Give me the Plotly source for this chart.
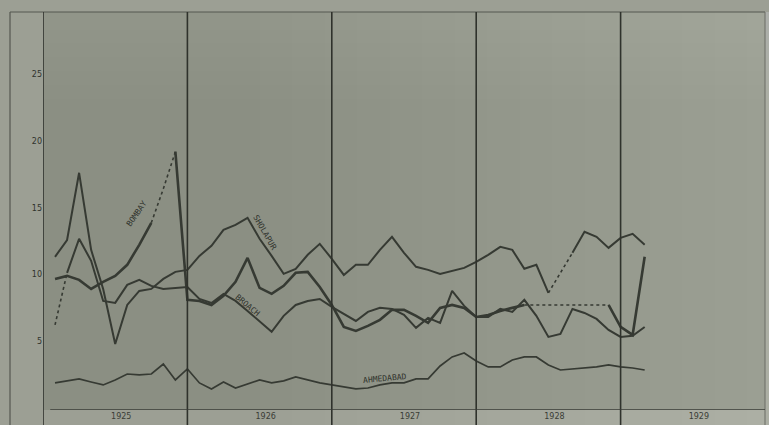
import plotly.graph_objects as go

# Monthly index: 1 = Jan 1925 ... 50 = Feb 1929
months = list(range(1, 51))
year_labels = ["1925", "1926", "1927", "1928", "1929"]
year_label_pos = [6.5, 18.5, 30.5, 42.5, 54.5]
year_bounds = [0, 12, 24, 36, 48]
y_ticks = [5, 10, 15, 20, 25]

bombay = [9.68, 9.91, 9.61, 8.93, 9.46, 9.91, 10.74, 12.24, 13.89, 16.44,
          19.22, 8.11, 8.03, 7.73, 8.41, 9.46, 11.26, 9.01, 8.56, 9.16,
          10.14, 10.21, 9.08, 7.73, 6.08, 5.78, 6.16, 6.61, 7.36, 7.36,
          6.91, 6.38, 7.51, 7.73, 7.51, 6.83, 6.98, 7.28, 7.51, 7.73,
          7.73, 7.73, 7.73, 7.73, 7.73, 7.73, 7.73, 6.08, 5.48, 11.34]
sholapur = [11.34, 12.6, 17.64, 11.86, 8.93, 4.8, 7.73, 8.78, 8.93, 9.68,
            10.21, 10.36, 11.41, 12.16, 13.36, 13.74, 14.26, 12.69, 11.41, 10.06,
            10.44, 11.49, 12.31, 11.19, 9.98, 10.74, 10.74, 11.86, 12.84, 11.64,
            10.59, 10.36, 10.06, 10.29, 10.51, 10.96, 11.49, 12.09, 11.86, 10.44,
            10.74, 8.63, 10.14, 11.64, 13.21, 12.84, 12.01, 12.76, 13.06, 12.24]
broach = [6.23, 10.14, 12.69, 11.04, 8.03, 7.88, 9.23, 9.61, 9.16, 8.93,
          9.01, 9.08, 8.18, 7.88, 8.56, 8.03, 7.28, 6.46, 5.71, 6.91,
          7.73, 8.03, 8.18, 7.58, 7.06, 6.53, 7.21, 7.51, 7.43, 6.98,
          6.01, 6.76, 6.38, 8.78, 7.66, 6.83, 6.83, 7.43, 7.21, 8.11,
          6.91, 5.33, 5.56, 7.43, 7.13, 6.68, 5.86, 5.33, 5.41, 6.08]
ahmedabad = [1.88, 2.03, 2.18, 1.95, 1.73, 2.1, 2.55, 2.48, 2.55, 3.3,
             2.1, 2.93, 1.88, 1.43, 1.95, 1.5, 1.8, 2.1, 1.88, 2.03,
             2.33, 2.1, 1.88, 1.73, 1.58, 1.43, 1.5, 1.73, 1.88, 1.88,
             2.18, 2.18, 3.15, 3.83, 4.13, 3.53, 3.08, 3.08, 3.6, 3.83,
             3.83, 3.23, 2.85, 2.93, 3.0, 3.08, 3.23, 3.08, 3.0, 2.85]

series = [
    ("BOMBAY", bombay, {8, 9, 39, 40, 41, 42, 43, 44, 45}, 2.6),
    ("SHOLAPUR", sholapur, {41, 42}, 2.0),
    ("BROACH", broach, {0}, 2.0),
    ("AHMEDABAD", ahmedabad, set(), 1.7),
]

LINE = "#363a33"


def split(vals, dotted_edges):
    sx, sy, dx, dy = [], [], [], []
    for i in range(len(vals) - 1):
        tx, ty = (dx, dy) if i in dotted_edges else (sx, sy)
        if tx and tx[-1] == months[i]:
            tx.append(months[i + 1]); ty.append(vals[i + 1])
        else:
            if tx:
                tx.append(None); ty.append(None)
            tx += [months[i], months[i + 1]]
            ty += [vals[i], vals[i + 1]]
    return sx, sy, dx, dy


fig = go.Figure()
for name, vals, dotted, w in series:
    sx, sy, dx, dy = split(vals, dotted)
    fig.add_trace(go.Scatter(x=sx, y=sy, mode="lines", name=name,
                             line=dict(color=LINE, width=w), showlegend=False,
                             hoverinfo="skip"))
    if dx:
        fig.add_trace(go.Scatter(x=dx, y=dy, mode="lines", name=name + " (est.)",
                                 line=dict(color=LINE, width=1.6, dash="dot"),
                                 showlegend=False, hoverinfo="skip"))

shapes = []
# paper-light gradient toward the right (photo lighting)
for k in range(16):
    shapes.append(dict(type="rect", xref="paper", yref="paper", layer="below",
                       x0=0.30 + 0.045 * k, x1=1.01, y0=-0.05, y1=1.0,
                       fillcolor="rgba(255,255,255,0.014)", line=dict(width=0)))
for k in range(6):
    shapes.append(dict(type="rect", xref="paper", yref="paper", layer="below",
                       x0=0.0, x1=1.01, y0=0.78 + 0.035 * k, y1=1.0,
                       fillcolor="rgba(255,255,255,0.012)", line=dict(width=0)))
# outer frame
shapes.append(dict(type="line", xref="paper", yref="paper", x0=-0.0457, x1=-0.0457,
                   y0=1, y1=-0.05, line=dict(color="#555850", width=1.2)))
shapes.append(dict(type="line", xref="paper", yref="paper", x0=-0.0457, x1=1,
                   y0=1, y1=1, line=dict(color="#555850", width=1.2)))
shapes.append(dict(type="line", xref="paper", yref="paper", x0=1, x1=1,
                   y0=1, y1=-0.05, line=dict(color="#6a6d64", width=1.0)))
# year boundary lines
for b in year_bounds:
    shapes.append(dict(type="line", xref="x", yref="paper", x0=b, x1=b,
                       y0=1, y1=-0.04, line=dict(color="#2f322c", width=1.6)))
# x axis line
shapes.append(dict(type="line", xref="paper", yref="y", x0=0.01, x1=1,
                   y0=-0.15, y1=-0.15, line=dict(color="#3a3d37", width=1.4)))
fig.update_layout(shapes=shapes)

labels = [
    ("BOMBAY", 7.8, 14.6, -55),
    ("SHOLAPUR", 18.45, 13.2, 60),
    ("BROACH", 17.0, 7.7, 40),
    ("AHMEDABAD", 28.4, 2.25, -5),
]
for txt, x, y, ang in labels:
    fig.add_annotation(x=x, y=y, text=txt, showarrow=False, textangle=ang,
                       font=dict(family="DejaVu Sans Mono", size=8, color="#30332d"))

fig.update_layout(
    width=769, height=425,
    margin=dict(l=43, r=4, t=12, b=15),
    paper_bgcolor="#9c9f94",
    plot_bgcolor="#8b8f83",
    font=dict(family="DejaVu Sans", size=8, color="#30332d"),
    xaxis=dict(range=[0, 60], showgrid=False, zeroline=False, showline=False,
               tickmode="array", tickvals=year_label_pos, ticktext=year_labels,
               ticks="", tickfont=dict(size=8, color="#3a3d36")),
    yaxis=dict(range=[-0.15, 29.7], showgrid=False, zeroline=False, showline=False,
               tickmode="array", tickvals=y_ticks, ticktext=[str(t) for t in y_ticks],
               ticks="", tickfont=dict(size=8, color="#30332d")),
)

fig.write_html("out.html",
               config={"displayModeBar": False},
               post_script="document.body.style.margin='0';"
                           "document.body.style.background='#9c9f94';")
